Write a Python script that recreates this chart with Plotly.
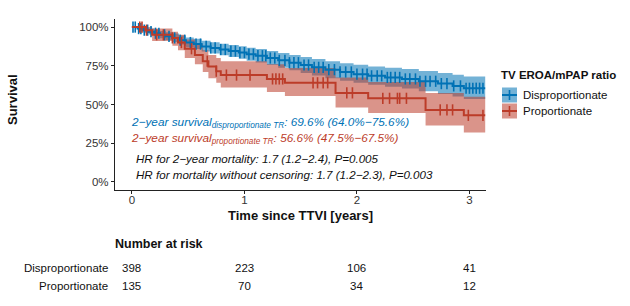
import numpy as np
import plotly.graph_objects as go

# ---------------- data ----------------
groups = ["Disproportionate", "Proportionate"]
colors = {"Disproportionate": "#0072B5", "Proportionate": "#BC3C29"}
fills = {"Disproportionate": "rgba(0,114,181,0.55)", "Proportionate": "rgba(188,60,41,0.55)"}

dis_t = [0, 0.05, 0.10, 0.15, 0.20, 0.25, 0.30, 0.36, 0.42, 0.48, 0.55, 0.62, 0.70, 0.78, 0.86,
         0.95, 1.02, 1.10, 1.20, 1.30, 1.40, 1.50, 1.60, 1.72, 1.85, 1.97, 2.10, 2.25, 2.40, 2.55,
         2.72, 2.85, 2.95, 3.14]
dis_s = [1.0, 0.99, 0.98, 0.97, 0.96, 0.95, 0.94, 0.93, 0.915, 0.90, 0.89, 0.875, 0.865, 0.855,
         0.845, 0.835, 0.825, 0.815, 0.80, 0.785, 0.77, 0.755, 0.74, 0.725, 0.71, 0.696, 0.685,
         0.675, 0.665, 0.65, 0.635, 0.62, 0.605, 0.605]
dis_lo = [1.0, 0.98, 0.965, 0.952, 0.94, 0.928, 0.916, 0.904, 0.887, 0.87, 0.858, 0.842, 0.83,
          0.818, 0.806, 0.795, 0.783, 0.771, 0.755, 0.738, 0.721, 0.704, 0.687, 0.67, 0.653,
          0.64, 0.627, 0.615, 0.603, 0.586, 0.568, 0.551, 0.535, 0.535]
dis_hi = [1.0, 1.0, 0.995, 0.99, 0.982, 0.974, 0.966, 0.958, 0.945, 0.932, 0.924, 0.911, 0.902,
          0.893, 0.884, 0.876, 0.867, 0.858, 0.845, 0.832, 0.819, 0.806, 0.793, 0.78, 0.767,
          0.756, 0.745, 0.737, 0.729, 0.716, 0.704, 0.692, 0.68, 0.68]

pro_t = [0, 0.12, 0.18, 0.36, 0.41, 0.47, 0.56, 0.63, 0.68, 0.75, 0.79, 1.20, 1.36, 1.81, 2.10,
         2.61, 2.95, 3.14]
pro_s = [1.0, 0.98, 0.95, 0.93, 0.90, 0.86, 0.82, 0.78, 0.745, 0.715, 0.69, 0.665, 0.64, 0.575,
         0.54, 0.465, 0.43, 0.43]
pro_lo = [1.0, 0.96, 0.91, 0.88, 0.85, 0.80, 0.76, 0.71, 0.67, 0.64, 0.61, 0.58, 0.555, 0.48,
          0.445, 0.365, 0.32, 0.32]
pro_hi = [1.0, 1.0, 0.99, 0.97, 0.95, 0.92, 0.89, 0.85, 0.82, 0.80, 0.78, 0.76, 0.735, 0.675,
          0.645, 0.575, 0.55, 0.55]

dis_cens = [0.01, 0.03, 0.06, 0.08, 0.11, 0.14, 0.17, 0.21, 0.24, 0.29, 0.33, 0.38, 0.43, 0.47,
            0.52, 0.57, 0.61, 0.66, 0.70, 0.74, 0.79, 0.83, 0.88, 0.92, 0.96, 1.00, 1.04, 1.08,
            1.12, 1.16, 1.19, 1.23, 1.27, 1.31, 1.36, 1.40, 1.44, 1.48, 1.53, 1.57, 1.62, 1.66,
            1.70, 1.75, 1.80, 1.85, 1.90, 1.95, 2.00, 2.05, 2.09, 2.13, 2.18, 2.22, 2.27, 2.30,
            2.34, 2.38, 2.43, 2.47, 2.52, 2.56, 2.61, 2.65, 2.70, 2.75, 2.80, 2.86, 2.92, 2.97,
            3.00, 3.03, 3.06, 3.09, 3.12]
pro_cens = [0.07, 0.09, 0.13, 0.22, 0.28, 0.36, 0.44, 0.53, 0.67, 0.75, 0.84, 0.93, 1.05, 1.25,
            1.28, 1.31, 1.34, 1.61, 1.65, 1.70, 1.74, 1.91, 1.96, 2.23, 2.29, 2.36, 2.38, 2.44,
            2.74, 2.80, 2.85, 2.99, 3.12]

risk_times = [0, 1, 2, 3]
risk_dis = [398, 223, 106, 41]
risk_pro = [135, 70, 34, 12]

y_ticks = [0, 0.25, 0.5, 0.75, 1.0]
y_ticklabels = ["0%", "25%", "50%", "75%", "100%"]
x_ticks = [0, 1, 2, 3]

curves = {
    "Disproportionate": (dis_t, dis_s, dis_lo, dis_hi, dis_cens),
    "Proportionate": (pro_t, pro_s, pro_lo, pro_hi, pro_cens),
}

# ---------------- figure ----------------
W, H = 630, 306
ML, MR, MT, MB = 115, 144, 19, 116
PW, PH = W - ML - MR, H - MT - MB


def px(x):
    return (x - ML) / PW


def py(y):
    return (H - MB - y) / PH


FONT = "Liberation Sans, Arial, sans-serif"
fig = go.Figure()

for g in groups:
    t, s, lo, hi, cens = curves[g]
    fig.add_trace(go.Scatter(x=t, y=lo, mode="lines", line=dict(width=0, shape="hv"),
                             hoverinfo="skip", showlegend=False))
    fig.add_trace(go.Scatter(x=t, y=hi, mode="lines", line=dict(width=0, shape="hv"),
                             fill="tonexty", fillcolor=fills[g], hoverinfo="skip",
                             showlegend=False))

for g in groups:
    t, s, lo, hi, cens = curves[g]
    fig.add_trace(go.Scatter(x=t, y=s, mode="lines", line=dict(color=colors[g], width=2, shape="hv"),
                             showlegend=False, name=g))
    ta = np.array(t)
    sa = np.array(s)
    idx = np.searchsorted(ta, np.array(cens), side="right") - 1
    fig.add_trace(go.Scatter(x=cens, y=sa[idx], mode="markers",
                             marker=dict(symbol="line-ns-open", size=8, color=colors[g],
                                         line=dict(color=colors[g], width=1.6)),
                             showlegend=False, hoverinfo="skip"))

fig.update_layout(
    width=W, height=H, margin=dict(l=ML, r=MR, t=MT, b=MB),
    paper_bgcolor="white", plot_bgcolor="white",
    font=dict(family=FONT, size=11, color="#222"),
    showlegend=False,
    xaxis=dict(range=[-0.15, 3.147], tickvals=x_ticks, showgrid=False, zeroline=False,
               showline=True, linecolor="#222", linewidth=1.3, ticks="outside", ticklen=3,
               tickcolor="#222", tickwidth=1, tickfont=dict(size=11.5, color="#333"),
               ticklabelstandoff=-4),
    yaxis=dict(range=[-0.052, 1.052], tickvals=y_ticks, ticktext=y_ticklabels, showgrid=False,
               zeroline=False, showline=True, linecolor="#222", linewidth=1.3, ticks="outside",
               ticklen=3, tickcolor="#222", tickwidth=1, tickfont=dict(size=11.5, color="#333")),
)


def note(text, x, y, size, color="#111", xanchor="left", xref="paper", **kw):
    d = dict(text=text, xref=xref, yref="paper", x=x, y=y, xanchor=xanchor, yanchor="middle",
             showarrow=False, font=dict(size=size, color=color))
    d.update(kw)
    return d


ann = []
# axis titles
ann.append(note("<b>Time since TTVI [years]</b>", px(300), py(216), 13, xanchor="center"))
ann.append(note("<b>Survival</b>", px(12), py(100), 13, xanchor="center", textangle=-90))

# in-plot texts
ann.append(note("<i>2\u2212year survival<sub>disproportionate TR</sub>: 69.6% (64.0%\u221275.6%)</i>",
                px(129), py(122), 11.8, color=colors["Disproportionate"]))
ann.append(note("<i>2\u2212year survival<sub>proportionate TR</sub>: 56.6% (47.5%\u221267.5%)</i>",
                px(129), py(138), 11.8, color=colors["Proportionate"]))
ann.append(note("<i>HR for 2\u2212year mortality: 1.7 (1.2\u22122.4), P=0.005</i>",
                px(134), py(158), 11.6))
ann.append(note("<i>HR for mortality without censoring: 1.7 (1.2\u22122.3), P=0.003</i>",
                px(134), py(174), 11.6))

# legend
ann.append(note("<b>TV EROA/mPAP ratio</b>", px(499), py(75), 11.5))
shapes = []
for i, g in enumerate(groups):
    yc = 95 + 16 * i
    shapes.append(dict(type="rect", xref="paper", yref="paper", x0=px(502), x1=px(517),
                       y0=py(yc - 7.5), y1=py(yc + 7.5), fillcolor=fills[g], line=dict(width=0)))
    shapes.append(dict(type="line", xref="paper", yref="paper", x0=px(502), x1=px(517),
                       y0=py(yc), y1=py(yc), line=dict(color=colors[g], width=2)))
    shapes.append(dict(type="line", xref="paper", yref="paper", x0=px(509.5), x1=px(509.5),
                       y0=py(yc - 5), y1=py(yc + 5), line=dict(color=colors[g], width=1.6)))
    ann.append(note(g, px(521), py(yc), 11.5))

# risk table
ann.append(note("<b>Number at risk</b>", px(113), py(244), 12.5))
for row, (g, vals) in enumerate(zip(groups, [risk_dis, risk_pro])):
    yy = 268 + 18 * row
    ann.append(note(g, px(110), py(yy), 11.5, xanchor="right"))
    for tt, v in zip(risk_times, vals):
        ann.append(note(str(v), tt, py(yy), 11.5, xanchor="center", xref="x"))

fig.update_layout(annotations=ann, shapes=shapes)
fig.write_html("out.html", config={"displayModeBar": False},
               post_script="document.body.style.margin='0';document.body.style.padding='0';")
